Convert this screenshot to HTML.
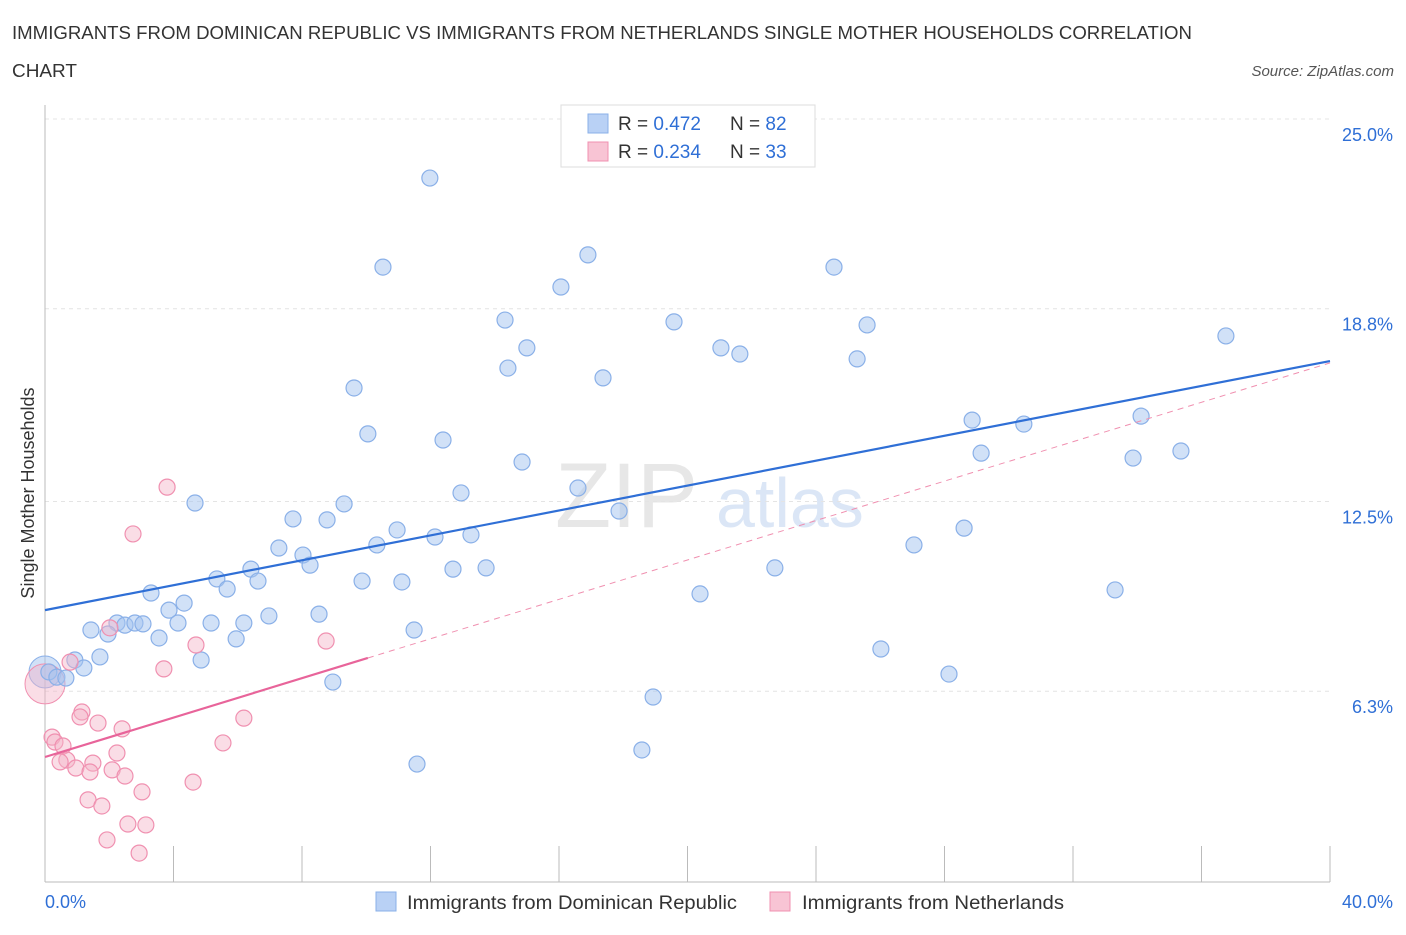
<!DOCTYPE html>
<html><head><meta charset="utf-8"><style>
body{margin:0;background:#fff;font-family:"Liberation Sans",sans-serif;}
svg text{font-family:"Liberation Sans",sans-serif;}
</style></head><body>
<svg id="chart" width="1406" height="930" xmlns="http://www.w3.org/2000/svg">
<text x="12" y="39" font-size="18" fill="#333" textLength="1180" lengthAdjust="spacingAndGlyphs">IMMIGRANTS FROM DOMINICAN REPUBLIC VS IMMIGRANTS FROM NETHERLANDS SINGLE MOTHER HOUSEHOLDS CORRELATION</text>
<text x="12" y="77" font-size="18" fill="#333" textLength="65" lengthAdjust="spacingAndGlyphs">CHART</text>
<text x="1394" y="76" font-size="15" fill="#555" font-style="italic" text-anchor="end">Source: ZipAtlas.com</text>
<text x="555" y="527" font-size="92" fill="#d8d8d8" font-family="Liberation Serif" opacity="0.6">ZIP</text>
<text x="716" y="527" font-size="70" fill="#b8cfee" opacity="0.5">atlas</text>
<text transform="translate(34,493) rotate(-90)" font-size="18" fill="#333" text-anchor="middle">Single Mother Households</text>
<g id="grid"></g><g id="marks"></g>
<rect x="561" y="105" width="254" height="62" fill="#fff" stroke="#ddd"/>
<rect x="588" y="114" width="20" height="19" fill="#b9d1f5" stroke="#8ab0e8"/>
<text x="618" y="130" font-size="19" fill="#333">R = <tspan fill="#2f6fd6">0.472</tspan></text>
<text x="730" y="130" font-size="19" fill="#333">N = <tspan fill="#2f6fd6">82</tspan></text>
<rect x="588" y="142" width="20" height="19" fill="#f8c4d4" stroke="#f090b0"/>
<text x="618" y="158" font-size="19" fill="#333">R = <tspan fill="#2f6fd6">0.234</tspan></text>
<text x="730" y="158" font-size="19" fill="#333">N = <tspan fill="#2f6fd6">33</tspan></text>
<rect x="376" y="892" width="20" height="19" fill="#b9d1f5" stroke="#8ab0e8"/>
<text x="407" y="909" font-size="19" fill="#333" textLength="330" lengthAdjust="spacingAndGlyphs">Immigrants from Dominican Republic</text>
<rect x="770" y="892" width="20" height="19" fill="#f8c4d4" stroke="#f090b0"/>
<text x="802" y="909" font-size="19" fill="#333" textLength="262" lengthAdjust="spacingAndGlyphs">Immigrants from Netherlands</text>
</svg>
<script>
const blueX=[11.98,10.52,16.90,16.06,24.56,14.32,19.58,25.59,36.76,15.00,21.04,21.63,25.28,14.41,17.37,9.62,28.86,30.47,34.12,10.05,12.39,29.14,33.87,35.36,14.85,12.95,16.59,4.67,9.31,7.72,8.78,17.87,28.61,10.96,12.14,13.26,10.33,7.28,27.05,8.03,8.25,12.70,13.73,6.41,22.72,5.35,6.63,5.67,9.87,11.11,3.30,33.31,20.39,4.33,3.86,6.97,8.53,1.43,2.24,2.49,2.80,3.05,4.14,5.17,6.19,1.96,3.55,5.95,11.49,26.02,1.71,0.93,4.86,1.21,0.12,0.37,0.65,28.14,8.96,18.93,18.58,11.58];
const blueY=[23.07,20.16,20.56,19.51,20.16,18.43,18.37,18.27,17.91,17.52,17.52,17.32,17.16,16.86,16.54,16.21,15.16,15.03,15.29,14.71,14.51,14.08,13.92,14.15,13.79,12.78,12.94,12.45,12.42,11.93,11.90,12.19,11.63,11.57,11.34,11.41,11.08,10.98,11.08,10.75,10.42,10.29,10.33,10.29,10.33,9.97,9.90,9.64,9.90,9.87,9.51,9.61,9.48,9.18,8.95,8.76,8.82,8.30,8.53,8.46,8.53,8.50,8.53,8.53,8.53,8.17,8.04,8.01,8.30,7.68,7.42,7.32,7.32,7.06,6.93,6.76,6.73,6.86,6.60,6.11,4.38,3.92];
const pinkX=[3.80,2.74,8.75,4.70,2.02,3.70,0.78,1.15,1.09,1.65,6.19,2.40,0.22,0.31,0.56,5.54,2.24,0.68,0.47,1.49,0.96,1.40,2.09,2.49,4.61,3.02,1.34,1.77,2.58,3.14,1.93,2.93];
const pinkY=[12.97,11.44,7.94,7.81,8.37,7.03,7.25,5.62,5.46,5.26,5.42,5.07,4.80,4.64,4.51,4.61,4.28,4.05,3.99,3.95,3.79,3.66,3.73,3.53,3.33,3.01,2.75,2.55,1.96,1.93,1.44,1.01];
const yTicks=[6.3,12.5,18.8,25.0];
const xTickLabels=["0.0%","40.0%"];
const blueTrend=[8.95,17.09];
const pinkTrend=[4.15,0.322];
const NS="http://www.w3.org/2000/svg";
const sx=v=>45+v*32.125, sy=v=>884-v*30.6;
function mk(t,a,p){const e=document.createElementNS(NS,t);for(const k in a)e.setAttribute(k,a[k]);p.appendChild(e);return e;}
const g=document.getElementById('grid'),m=document.getElementById('marks');
yTicks.forEach(t=>{
 const l=mk('line',{x1:45,x2:1330,y1:sy(t),y2:sy(t),stroke:'#e4e4e4','stroke-dasharray':'4,4'},g);
 
 
 const tx=mk('text',{x:1393,y:sy(t)+22,'font-size':18,fill:'#2f6fd6','text-anchor':'end'},g);
 tx.textContent=t.toFixed(1)+'%';
 
 
});
const ax=mk('line',{x1:45,x2:45,y1:105,y2:882,stroke:'#bbb'},g);


const bx=mk('line',{x1:45,x2:1330,y1:882,y2:882,stroke:'#bbb'},g);


for(let i=0;i<=10;i++){const tk=mk('line',{x1:sx(i*4),x2:sx(i*4),y1:846,y2:882,stroke:'#bbb'},g);
 
 }
xTickLabels.forEach((s,i)=>{const tx=mk('text',{x:i?1393:45,y:908,'font-size':18,fill:'#2f6fd6','text-anchor':i?'end':'start'},g);tx.textContent=s;
 
 });
const bc=mk('circle',{cx:sx(0),cy:sy(6.93),r:16,fill:'rgba(164,196,240,0.5)',stroke:'#8ab0e8'},m);


const pc=mk('circle',{cx:sx(0),cy:sy(6.54),r:20,fill:'rgba(245,180,200,0.45)',stroke:'#f090b0'},m);


blueX.forEach((x,i)=>{const c=mk('circle',{cx:sx(x),cy:sy(blueY[i]),r:8,fill:'rgba(164,196,240,0.5)',stroke:'#8ab0e8','stroke-width':1.2},m);
 
 });
pinkX.forEach((x,i)=>{const c=mk('circle',{cx:sx(x),cy:sy(pinkY[i]),r:8,fill:'rgba(245,180,200,0.45)',stroke:'#f090b0','stroke-width':1.2},m);
 
 });
const bl=mk('line',{x1:sx(0),y1:sy(blueTrend[0]),x2:sx(40),y2:sy(blueTrend[1]),stroke:'#2f6fd6','stroke-width':2.2},m);


const pd=mk('line',{x1:sx(10.05),y1:sy(pinkTrend[0]+pinkTrend[1]*10.05),x2:sx(40),y2:sy(pinkTrend[0]+pinkTrend[1]*40),stroke:'#f090b0','stroke-width':1,'stroke-dasharray':'6,5'},m);


const pl=mk('line',{x1:sx(0),y1:sy(pinkTrend[0]),x2:sx(10.05),y2:sy(pinkTrend[0]+pinkTrend[1]*10.05),stroke:'#e8649a','stroke-width':2.2},m);


</script>
</body></html>
